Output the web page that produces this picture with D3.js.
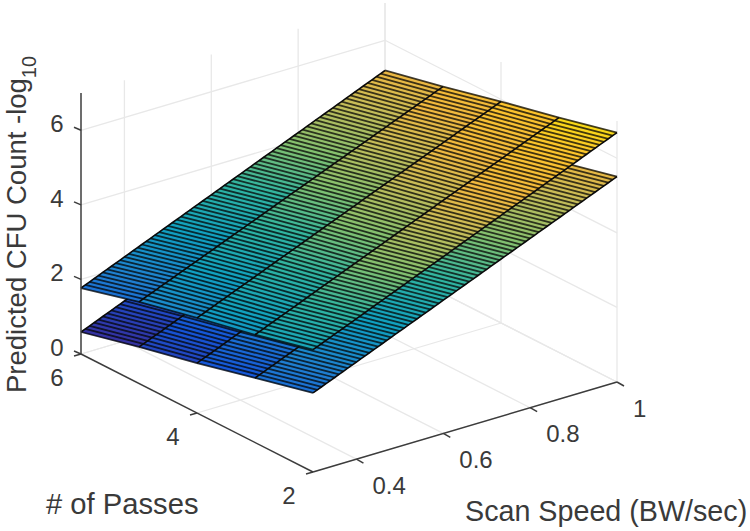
<!DOCTYPE html>
<html>
<head>
<meta charset="utf-8">
<script src="https://cdn.jsdelivr.net/npm/d3@7/dist/d3.min.js"></script>
<style>
body { margin: 0; background: #fff; }
text { font-family: "Liberation Sans", Arial, sans-serif; fill: #3a3a3a; }
</style>
</head>
<body>
<svg id="chart" width="750" height="531"></svg>
<script>
// values
var passes = [6, 5, 4, 3, 2];
var speedEnds = [0.3, 1];
var upperSlow = [1.77, 2.19, 2.55, 2.89, 3.28];
var upperFast = [5.19, 5.55, 5.94, 6.30, 6.69];
var lowerSlow = [0.59, 0.98, 1.34, 1.73, 2.12];
var lowerFast = [4.00, 4.36, 4.75, 5.12, 5.51];
var speedMesh = [0.30, 0.31, 0.32, 0.33, 0.34, 0.35, 0.36, 0.37, 0.38, 0.39,
	0.40, 0.41, 0.42, 0.43, 0.44, 0.45, 0.46, 0.47, 0.48, 0.49,
	0.50, 0.51, 0.52, 0.53, 0.54, 0.55, 0.56, 0.57, 0.58, 0.59,
	0.60, 0.61, 0.62, 0.63, 0.64, 0.65, 0.66, 0.67, 0.68, 0.69,
	0.70, 0.71, 0.72, 0.73, 0.74, 0.75, 0.76, 0.77, 0.78, 0.79,
	0.80, 0.81, 0.82, 0.83, 0.84, 0.85, 0.86, 0.87, 0.88, 0.89,
	0.90, 0.91, 0.92, 0.93, 0.94, 0.95, 0.96, 0.97, 0.98, 0.99, 1.00];
var speedTicks = [0.4, 0.6, 0.8, 1];
var passTicks = [2, 4, 6];
var zTicks = [0, 2, 4, 6];
var colorZ = [0.59, 1.3, 2.0, 2.7, 3.4, 4.0, 4.7, 5.2, 5.9, 6.4, 6.69];
var colorHex = ["#3432a0", "#1556d8", "#1f80d0", "#10a0c0", "#30b4a0", "#80c070", "#c8bc58", "#f0b840", "#fcc42c", "#f8e010", "#fafc0c"];

var svg = d3.select("#chart"),
	originX = 81, originY = 354;

// oblique projection: every axis adds its own screen offset
var speedX = d3.scaleLinear().domain([0.3, 1]).range([0, 304]),
	speedY = d3.scaleLinear().domain([0.3, 1]).range([0, -90]),
	passX = d3.scaleLinear().domain([6, 2]).range([0, 232]),
	passY = d3.scaleLinear().domain([6, 2]).range([0, 118]),
	zY = d3.scaleLinear().domain([0, 7]).range([0, -261]);

var color = d3.scaleLinear().domain(colorZ).range(colorHex);

function px(p) { return originX + speedX(p.s) + passX(p.p); }
function py(p) { return originY + speedY(p.s) + passY(p.p) + zY(p.z); }

var line = d3.line().x(px).y(py);

function seg(a, b) { return line([a, b]); }

// grey box grid
var grid = svg.append("g").attr("stroke", "#e8e8e8").attr("stroke-width", 1.3).attr("fill", "none");
speedTicks.forEach(function(s) {
	grid.append("path").attr("d", seg({s: s, p: 2, z: 0}, {s: s, p: 6, z: 0}));
	grid.append("path").attr("d", seg({s: s, p: 6, z: 0}, {s: s, p: 6, z: 7}));
});
passTicks.forEach(function(p) {
	grid.append("path").attr("d", seg({s: 0.3, p: p, z: 0}, {s: 1, p: p, z: 0}));
	grid.append("path").attr("d", seg({s: 1, p: p, z: 0}, {s: 1, p: p, z: 7}));
});
zTicks.forEach(function(z) {
	grid.append("path").attr("d", seg({s: 0.3, p: 6, z: z}, {s: 1, p: 6, z: z}));
	grid.append("path").attr("d", seg({s: 1, p: 6, z: z}, {s: 1, p: 2, z: z}));
});

// surface: z along one pass line, from the two end readings
function drawSurface(slow, fast) {
	var g = svg.append("g");
	var rows = passes.map(function(p, i) {
		var zAt = d3.scaleLinear().domain(speedEnds).range([slow[i], fast[i]]);
		return speedMesh.map(function(s) { return {s: s, p: p, z: zAt(s)}; });
	});
	for (var i = 0; i < rows.length - 1; i++) {
		for (var j = 0; j < speedMesh.length - 1; j++) {
			var c = color(rows[i][j].z);
			g.append("path")
				.attr("d", line([rows[i][j], rows[i][j + 1], rows[i + 1][j + 1], rows[i + 1][j]]) + "Z")
				.attr("fill", c)
				.attr("stroke", c)
				.attr("stroke-width", 0.4);
		}
	}
	speedMesh.forEach(function(s, j) {
		g.append("path")
			.attr("d", line(rows.map(function(r) { return r[j]; })))
			.attr("fill", "none")
			.attr("stroke", "#000")
			.attr("stroke-opacity", 0.74)
			.attr("stroke-width", 1.8);
	});
	rows.forEach(function(r) {
		g.append("path")
			.attr("d", line(r))
			.attr("fill", "none")
			.attr("stroke", "#0a0a0a")
			.attr("stroke-width", 1.6);
	});
}
drawSurface(lowerSlow, lowerFast);
drawSurface(upperSlow, upperFast);

// axes
var axis = svg.append("g").attr("stroke", "#3c3c3c").attr("stroke-width", 1.5).attr("fill", "none");
axis.append("path").attr("d", seg({s: 0.3, p: 6, z: 0}, {s: 0.3, p: 6, z: 7}));
axis.append("path").attr("d", seg({s: 0.3, p: 6, z: 0}, {s: 0.3, p: 2, z: 0}));
axis.append("path").attr("d", seg({s: 0.3, p: 2, z: 0}, {s: 1, p: 2, z: 0}));

zTicks.forEach(function(z) {
	var a = {s: 0.3, p: 6, z: z};
	axis.append("path").attr("d", "M" + px(a) + "," + py(a) + "l-7,-3");
});
passTicks.forEach(function(p) {
	var a = {s: 0.3, p: p, z: 0};
	axis.append("path").attr("d", "M" + px(a) + "," + py(a) + "l-7,2");
});
speedTicks.forEach(function(s) {
	var a = {s: s, p: 2, z: 0};
	axis.append("path").attr("d", "M" + px(a) + "," + py(a) + "l7,4");
});

// tick labels
var tickSize = 24;
zTicks.forEach(function(z) {
	svg.append("text")
		.attr("x", originX - 24)
		.attr("y", originY + zY(z) + 2)
		.attr("text-anchor", "middle")
		.attr("font-size", tickSize)
		.text(z);
});
passTicks.forEach(function(p) {
	svg.append("text")
		.attr("x", originX + passX(p) - 24)
		.attr("y", originY + passY(p) + 32)
		.attr("text-anchor", "middle")
		.attr("font-size", tickSize)
		.text(p);
});
speedTicks.forEach(function(s) {
	svg.append("text")
		.attr("x", originX + 232 + speedX(s) + 16)
		.attr("y", originY + 118 + speedY(s) + 34.5)
		.attr("font-size", tickSize)
		.text(s);
});

// axis titles
svg.append("text")
	.attr("x", 46).attr("y", 514)
	.attr("font-size", 29.2)
	.text("# of Passes");
svg.append("text")
	.attr("x", 465).attr("y", 521)
	.attr("font-size", 28.7)
	.text("Scan Speed (BW/sec)");
var yTitle = svg.append("text")
	.attr("transform", "translate(26,393) rotate(-90)")
	.attr("font-size", 27.5);
yTitle.append("tspan").text("Predicted CFU Count -log");
yTitle.append("tspan").attr("dy", 10).attr("font-size", 20).text("10");
</script>
</body>
</html>
